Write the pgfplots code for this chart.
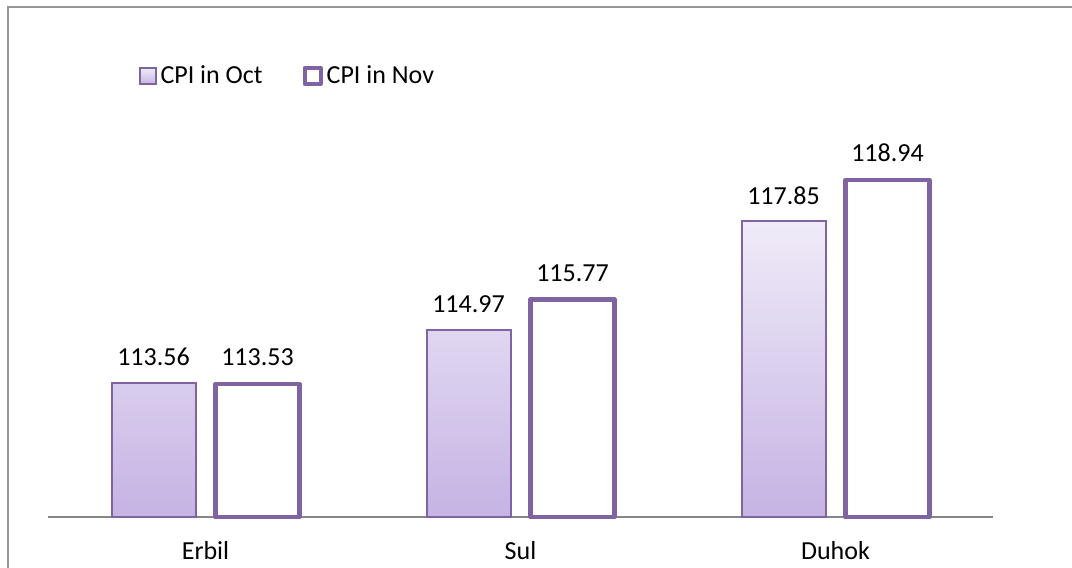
\documentclass[border=0pt]{standalone}
\usepackage{fontspec}
\setmainfont{Carlito}
\usepackage{pgfplots}
\pgfplotsset{compat=1.18}
\definecolor{purc}{HTML}{8064A2}
\definecolor{octtop}{HTML}{F0EBF8}
\definecolor{octbot}{HTML}{C5B3E4}
\definecolor{framec}{RGB}{150,150,150}
\definecolor{axc}{RGB}{135,135,135}
\newcommand{\lblfont}{\fontsize{13pt}{15.6pt}\selectfont}
\begin{document}
\begin{tikzpicture}
\useasboundingbox (0,0) rectangle (536pt,-284pt);
\draw[framec, line width=1pt] (4pt,-300pt) -- (4pt,-3.25pt) -- (560pt,-3.25pt);
\begin{axis}[
  at={(24pt,-258.5pt)}, anchor=south west,
  scale only axis, width=472.5pt, height=226.2pt,
  ymin=110, ymax=122,
  xmin=-0.5, xmax=2.5,
  ybar=10pt, bar width=42pt,
  axis x line*=bottom, axis y line=none,
  x axis line style={axc, line width=1pt},
  xtick={0,1,2}, xticklabels={Erbil,Sul,Duhok},
  major tick length=0pt,
  xticklabel style={font=\lblfont, yshift=-8.5pt},
  /pgf/number format/assume math mode=true,
  nodes near coords={\pgfmathprintnumber[fixed,precision=2,fixed zerofill]{\pgfplotspointmeta}},
  every node near coord/.append style={font=\lblfont, text=black, yshift=4.5pt},
  legend style={at={(0.096,0.975)}, anchor=west, draw=none, fill=none,
    font=\lblfont, inner sep=0pt,
    /tikz/every even column/.append style={column sep=18pt}},
  legend columns=2,
  legend cell align=left,
  clip=false,
]
\addplot[top color=octtop, bottom color=octbot, draw=purc, line width=1pt,
  legend image code/.code={\draw[top color=octtop, bottom color=octbot, draw=purc, line width=0.7pt] (0pt,-4pt) rectangle (8pt,4pt);}]
  coordinates {(0,113.56) (1,114.97) (2,117.85)};
\addlegendentry{CPI in Oct}
\addplot[fill=white, draw=purc, line width=2.2pt, line join=round,
  legend image code/.code={\draw[fill=white, draw=purc, line width=2pt, line join=round] (1pt,-4pt) rectangle (9pt,4pt);}]
  coordinates {(0,113.53) (1,115.77) (2,118.94)};
\addlegendentry{CPI in Nov}
\end{axis}
\end{tikzpicture}
\end{document}
